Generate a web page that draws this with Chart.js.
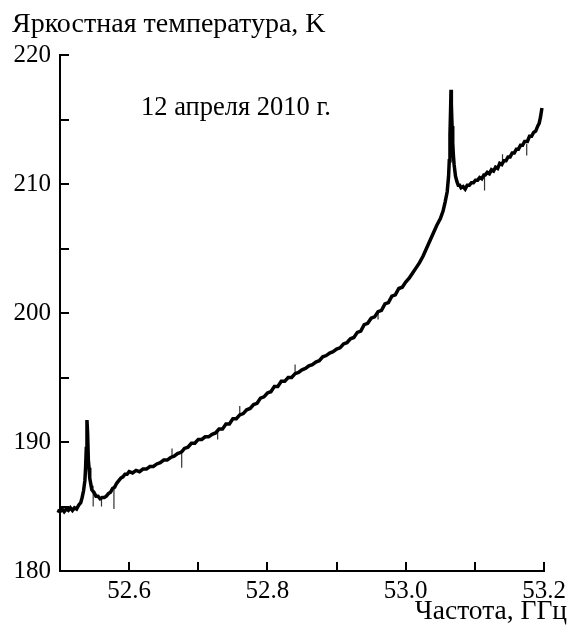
<!DOCTYPE html>
<html>
<head>
<meta charset="utf-8">
<script src="https://cdn.jsdelivr.net/npm/chart.js@4.4.1/dist/chart.umd.min.js"></script>
<style>
  html, body { margin: 0; padding: 0; background: #fff; }
  #wrap { width: 568px; height: 630px; position: relative; }
</style>
</head>
<body>
<div id="wrap"><canvas id="spectrum"></canvas></div>
<script>
// Данные: частота (ГГц) и яркостная температура (K)
const freq = [
  52.488, 52.490, 52.493, 52.496, 52.500, 52.503, 52.506, 52.509, 52.512, 52.515,
  52.518, 52.521, 52.524, 52.527, 52.530, 52.532, 52.534, 52.536, 52.537, 52.538,
  52.539, 52.540, 52.541, 52.542, 52.543, 52.545, 52.546, 52.549, 52.552,
  52.555, 52.558, 52.561, 52.564, 52.567, 52.570, 52.573, 52.576,
  52.579, 52.582, 52.585, 52.588, 52.591, 52.594, 52.597, 52.600, 52.605, 52.610,
  52.615, 52.620, 52.625, 52.630, 52.635, 52.640, 52.645, 52.650, 52.655, 52.660,
  52.665, 52.670, 52.675, 52.677, 52.680, 52.685, 52.690, 52.695, 52.700,
  52.705, 52.710, 52.715, 52.720, 52.725, 52.730, 52.735, 52.740, 52.745, 52.750,
  52.755, 52.760, 52.765, 52.770, 52.775, 52.780, 52.785, 52.790, 52.795, 52.800,
  52.805, 52.810, 52.815, 52.820, 52.825, 52.830, 52.835, 52.840, 52.845, 52.850,
  52.855, 52.860, 52.865, 52.870, 52.875, 52.880, 52.885, 52.890, 52.895, 52.900,
  52.905, 52.910, 52.915, 52.920, 52.925, 52.930, 52.935, 52.940, 52.945, 52.950,
  52.955, 52.960, 52.965, 52.970, 52.975, 52.980, 52.985, 52.990, 52.995, 53.000,
  53.005, 53.010, 53.015, 53.020, 53.025, 53.030, 53.035, 53.040, 53.045, 53.050,
  53.054, 53.057, 53.060, 53.062, 53.063, 53.064, 53.065, 53.0655, 53.066, 53.067,
  53.068, 53.069, 53.070, 53.072, 53.074, 53.076, 53.078, 53.080, 53.083, 53.086,
  53.089, 53.092, 53.095, 53.098, 53.101, 53.104, 53.107, 53.110, 53.113,
  53.115, 53.118, 53.121, 53.124, 53.127, 53.130, 53.133, 53.136, 53.139, 53.142,
  53.145, 53.148, 53.151, 53.154, 53.157, 53.160, 53.163, 53.166, 53.169, 53.172,
  53.176, 53.179, 53.182, 53.185, 53.188, 53.191, 53.193, 53.195, 53.197
];
const temp = [
  184.0, 184.4, 184.5, 184.7, 184.6, 184.8, 184.6, 184.8, 184.7, 184.9,
  184.7, 184.9, 184.8, 185.1, 185.3, 185.7, 186.2, 187.0, 188.0, 189.5,
  191.7, 190.6, 188.6, 188.0, 187.2, 186.6, 186.3, 186.1, 185.8,
  185.8, 185.6, 185.7, 185.7, 185.8, 186.0, 186.1, 186.4,
  186.5, 186.8, 187.0, 187.2, 187.3, 187.5, 187.5, 187.7, 187.6, 187.8,
  187.7, 187.9, 187.9, 188.1, 188.1, 188.3, 188.4, 188.6, 188.6, 188.8,
  188.9, 189.1, 189.2, 189.3, 189.5, 189.6, 189.9, 189.9, 190.2,
  190.2, 190.4, 190.4, 190.6, 190.7, 191.0, 191.0, 191.4, 191.4, 191.8,
  191.8, 192.1, 192.2, 192.5, 192.6, 192.9, 193.0, 193.4, 193.5, 193.8,
  193.9, 194.3, 194.3, 194.7, 194.7, 195.0, 195.0, 195.3, 195.4, 195.6,
  195.7, 195.9, 196.0, 196.2, 196.3, 196.6, 196.7, 196.9, 197.0, 197.2,
  197.3, 197.6, 197.7, 198.0, 198.1, 198.5, 198.6, 199.1, 199.2, 199.6,
  199.7, 200.1, 200.2, 200.7, 200.8, 201.3, 201.4, 201.9, 202.0, 202.4,
  202.7, 203.1, 203.5, 203.9, 204.4, 205.0, 205.6, 206.2, 206.8, 207.3,
  207.9, 208.6, 209.4, 210.6, 211.8, 213.8, 216.0, 217.3, 216.2, 214.5,
  213.2, 212.2, 211.5, 210.6, 210.2, 209.9, 209.9, 209.7, 209.8, 209.6,
  209.9, 209.9, 210.1, 210.1, 210.3, 210.3, 210.5, 210.4, 210.7,
  210.7, 210.9, 210.8, 211.1, 211.0, 211.3, 211.2, 211.6, 211.5, 211.8,
  211.8, 212.1, 212.1, 212.4, 212.4, 212.7, 212.7, 213.0, 213.0, 213.3,
  213.3, 213.7, 213.7, 214.0, 214.1, 214.5, 214.7, 215.2, 215.9
];
// узкие выбросы: частота, уровень у кривой, конец выброса
const spikeFreq = [52.548, 52.560, 52.578, 52.676, 52.728, 52.662, 52.760, 52.840, 52.960, 53.114, 53.140, 53.175];
const spikeBase = [186.2, 185.7, 186.4, 189.2, 190.8, 188.8, 192.1, 195.4, 200.1, 210.6, 211.6, 213.1];
const spikeTip = [185.0, 185.0, 184.8, 188.0, 190.2, 189.5, 192.8, 196.0, 199.5, 209.5, 212.3, 212.2];

const xLabelTicks = [52.6, 52.8, 53.0, 53.2];
const yLabelTicks = [180, 190, 200, 210, 220];

const yTitle = 'Яркостная температура, K';
const xTitle = 'Частота, ГГц';
const dateNote = '12 апреля 2010 г.';

const FONT = '"Liberation Serif", "Times New Roman", serif';

const spikeData = [];
spikeFreq.forEach((f, i) => {
    spikeData.push({ x: f, y: spikeBase[i] }, { x: f, y: spikeTip[i] }, { x: f, y: null });
});

// засечки внутрь области графика + подписи
const decorPlugin = {
    id: 'decor',
    afterDraw(chart) {
        const ctx = chart.ctx;
        const area = chart.chartArea;
        const xs = chart.scales.x, ys = chart.scales.y;
        ctx.save();
        ctx.strokeStyle = '#000';
        ctx.lineWidth = 2;
        ctx.beginPath();
        xs.ticks.forEach(t => {
            const px = Math.round(xs.getPixelForValue(t.value));
            if (px <= area.left + 1) return;
            ctx.moveTo(px, area.bottom);
            ctx.lineTo(px, area.bottom - 9);
        });
        ys.ticks.forEach(t => {
            const py = Math.round(ys.getPixelForValue(t.value));
            ctx.moveTo(area.left, py);
            ctx.lineTo(area.left + 9, py);
        });
        ctx.stroke();

        ctx.fillStyle = '#000';
        ctx.textBaseline = 'alphabetic';
        ctx.textAlign = 'left';
        ctx.font = '28px ' + FONT;
        ctx.fillText(yTitle, 12, 32);
        ctx.font = '26.5px ' + FONT;
        ctx.fillText(dateNote, 141, 115);
        ctx.textAlign = 'right';
        ctx.font = '27.5px ' + FONT;
        ctx.fillText(xTitle, 567, 619);
        ctx.restore();
    }
};

new Chart(document.getElementById('spectrum'), {
    type: 'line',
    data: {
        datasets: [{
            data: freq.map((f, i) => ({ x: f, y: temp[i] })),
            borderColor: '#000',
            borderWidth: 3.5,
            pointRadius: 0,
            tension: 0,
            clip: false
        }, {
            data: spikeData,
            borderColor: '#333',
            borderWidth: 1.2,
            pointRadius: 0,
            spanGaps: false,
            clip: false
        }]
    },
    options: {
        responsive: true,
        maintainAspectRatio: false,
        animation: false,
        layout: { padding: { top: 55, right: 24, left: 0, bottom: 0 } },
        plugins: { legend: { display: false }, tooltip: { enabled: false } },
        scales: {
            x: {
                type: 'linear',
                min: 52.5,
                max: 53.2,
                border: { display: true, color: '#000', width: 2 },
                grid: { display: false, drawTicks: false },
                afterFit: s => { s.height = 59; s.paddingRight = 0; s.paddingLeft = 0; },
                ticks: {
                    stepSize: 0.1,
                    autoSkip: false,
                    maxRotation: 0,
                    padding: 5,
                    color: '#000',
                    font: { family: FONT, size: 25 },
                    callback: v => {
                        const hit = xLabelTicks.find(t => Math.abs(t - v) < 1e-6);
                        return hit !== undefined ? hit.toFixed(1) : '';
                    }
                }
            },
            y: {
                min: 180,
                max: 220,
                border: { display: true, color: '#000', width: 2 },
                grid: { display: false, drawTicks: false },
                afterFit: s => { s.width = 60; s.paddingTop = 0; s.paddingBottom = 0; },
                ticks: {
                    stepSize: 5,
                    autoSkip: false,
                    padding: 9,
                    color: '#000',
                    font: { family: FONT, size: 25 },
                    callback: v => yLabelTicks.includes(v) ? String(v) : ''
                }
            }
        }
    },
    plugins: [decorPlugin]
});
</script>
</body>
</html>
